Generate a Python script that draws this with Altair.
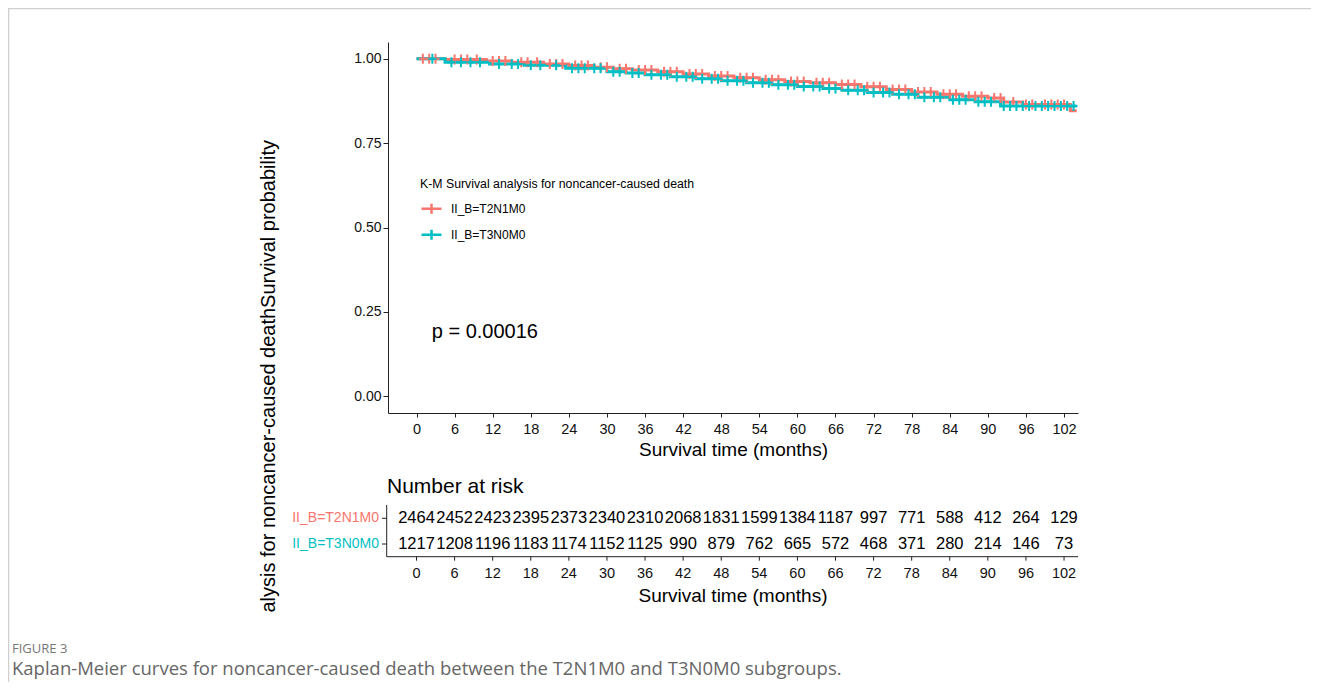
import altair as alt
import pandas as pd

# ---------------- data ----------------
groups = ["II_B=T2N1M0", "II_B=T3N0M0"]
colors = ["#F8766D", "#00BFC4"]

# Kaplan-Meier step curves (time in months, survival probability)
red_t = [0, 4.5, 11, 15, 20, 24, 28, 31, 34, 38, 42, 46, 50, 54, 58, 62, 66, 70,
         74, 78, 82, 86, 90, 92.5, 95.5, 103, 104]
red_s = [1.000, 0.998, 0.994, 0.990, 0.985, 0.980, 0.975, 0.971, 0.967, 0.962,
         0.955, 0.949, 0.944, 0.938, 0.933, 0.929, 0.924, 0.917, 0.909, 0.902,
         0.895, 0.889, 0.884, 0.872, 0.865, 0.846, 0.846]
cyan_t = [0, 4.5, 11.5, 17, 23.5, 30, 33, 36, 40, 44, 48, 52, 56, 60, 64, 67, 71,
          75, 79, 84, 88, 92, 104]
cyan_s = [1.000, 0.990, 0.985, 0.981, 0.972, 0.962, 0.958, 0.953, 0.947, 0.941,
          0.935, 0.929, 0.923, 0.918, 0.912, 0.907, 0.900, 0.895, 0.886, 0.879,
          0.873, 0.860, 0.860]

# censoring times ("+" marks)
red_c = [1, 2, 3, 6, 7, 8, 9.5, 12, 13, 14, 16.5, 17.5, 19, 21, 22, 23, 25, 26, 27,
         29, 30, 32, 33, 35, 36, 37, 39, 40, 41, 43, 44, 45, 47, 48, 49, 51, 52, 53,
         55, 56, 57, 59, 60, 61, 63, 64, 65, 67, 68, 69, 71, 72, 73, 75, 76, 77, 79,
         80, 81, 83, 84, 85, 87, 88, 89, 91, 92, 94, 96, 97, 99, 100, 101, 102]
cyan_c = [2.5, 5.5, 7, 8.5, 10, 13, 15, 16, 18, 19.5, 22, 24.5, 25.5, 26.5, 28, 29,
          31, 32, 34, 35, 37, 38.5, 39.5, 41, 42.5, 43.5, 45, 46.5, 47.5, 49, 50.5,
          51.5, 53, 54.5, 55.5, 57, 58.5, 59.5, 61, 62.5, 63.5, 65, 66, 68, 69.5,
          70.5, 72, 73.5, 74.5, 76, 77.5, 78.5, 80, 81.5, 82.5, 84.5, 85.5, 86.5,
          88.5, 89.5, 90.5, 92.5, 93.5, 94.5, 95.5, 96.5, 97.5, 98.5, 99.5, 100.5,
          101.5, 102.5, 103.5]

# number at risk table
months = [0, 6, 12, 18, 24, 30, 36, 42, 48, 54, 60, 66, 72, 78, 84, 90, 96, 102]
n_red = [2464, 2452, 2423, 2395, 2373, 2340, 2310, 2068, 1831, 1599, 1384, 1187,
         997, 771, 588, 412, 264, 129]
n_cyan = [1217, 1208, 1196, 1183, 1174, 1152, 1125, 990, 879, 762, 665, 572, 468,
          371, 280, 214, 146, 73]

p_text = "p = 0.00016"
p_pos = [2.4, 0.19]

# ---------------- tables ----------------
def step_value(ts, ss, t):
    v = ss[0]
    for ti, si in zip(ts, ss):
        if ti <= t:
            v = si
    return v

curve = pd.DataFrame(
    [{"t": t, "s": s, "group": groups[0]} for t, s in zip(red_t, red_s)]
    + [{"t": t, "s": s, "group": groups[1]} for t, s in zip(cyan_t, cyan_s)]
)
cens = pd.DataFrame(
    [{"t": t, "s": step_value(red_t, red_s, t), "group": groups[0]} for t in red_c]
    + [{"t": t, "s": step_value(cyan_t, cyan_s, t), "group": groups[1]} for t in cyan_c]
)
risk_red = pd.DataFrame({"t": months, "n": n_red})
risk_cyan = pd.DataFrame({"t": months, "n": n_cyan})
ticks = pd.DataFrame({"t": months, "lab": [str(m) for m in months]})
pdf = pd.DataFrame({"t": [p_pos[0]], "s": [p_pos[1]], "lab": [p_text]})

FONT = "Liberation Sans, Arial, sans-serif"
W, H = 690, 371

x_axis = alt.Axis(values=months, title="Survival time (months)", titleFontSize=19,
                  titleFontWeight="normal", titleColor="#000", titlePadding=5,
                  labelFontSize=14.5, labelColor="#111", labelPadding=5, tickSize=4,
                  tickColor="#222", domainColor="#222", labelFont=FONT, titleFont=FONT,
                  grid=False)
x_enc = alt.X("t:Q", scale=alt.Scale(domain=[-4.49, 104.2], nice=False, zero=False),
              axis=x_axis)
y_axis = alt.Axis(values=[0, 0.25, 0.5, 0.75, 1.0], format=".2f",
                  title="alysis for noncancer-caused deathSurvival probability",
                  titleAngle=270, titleX=-120, titleY=570, titleAlign="left",
                  titleBaseline="middle", titleFontSize=20, titleFontWeight="normal",
                  titleColor="#000", titleLimit=0, labelFontSize=14, labelColor="#111",
                  labelPadding=2, tickSize=5, tickColor="#222", domainColor="#222",
                  labelFont=FONT, titleFont=FONT, grid=False)
y_enc = alt.Y("s:Q", scale=alt.Scale(domain=[-0.05, 1.05], nice=False, zero=False),
              axis=y_axis)
legend = alt.Legend(orient="none", legendX=32, legendY=136,
                    title="K-M Survival analysis for noncancer-caused death",
                    titleFontSize=12.3, titleFontWeight="normal", titleColor="#000",
                    titleFont=FONT, labelFont=FONT, labelFontSize=12, labelColor="#000",
                    titleLimit=0, labelLimit=0,
                    symbolType="M-1,0H1M0,-0.5V0.5", symbolSize=400,
                    symbolStrokeWidth=2.5, rowPadding=4, titlePadding=7, labelOffset=8)
c_enc = alt.Color("group:N", scale=alt.Scale(domain=groups, range=colors), legend=legend)

lines = alt.Chart(curve).mark_line(interpolate="step-after", strokeWidth=3).encode(
    x=x_enc, y=y_enc, color=c_enc, order=alt.Order("t:Q"))
marks = alt.Chart(cens).mark_point(shape="M-0.8,0H0.8M0,-1V1", filled=False, size=100,
                                   strokeWidth=2, opacity=1).encode(
    x=x_enc, y=y_enc, color=c_enc)
ptext = alt.Chart(pdf).mark_text(align="left", baseline="middle", fontSize=20,
                                 font=FONT, color="#000").encode(
    x=x_enc, y=y_enc, text="lab:N")

# ---- number-at-risk table (shares the x scale) ----
ROW1, ROW2, TAX = 476.3, 502.0, 514.7
nar_title = alt.Chart(pdf).mark_text(align="left", baseline="middle", fontSize=21,
                                     font=FONT, color="#000").encode(
    x=alt.value(-1), y=alt.value(445), text=alt.value("Number at risk"))
row1 = alt.Chart(risk_red).mark_text(fontSize=16.5, font=FONT, color="#000",
                                     baseline="middle").encode(
    x=x_enc, y=alt.value(ROW1), text="n:N")
row2 = alt.Chart(risk_cyan).mark_text(fontSize=16.5, font=FONT, color="#000",
                                      baseline="middle").encode(
    x=x_enc, y=alt.value(ROW2), text="n:N")
tab_yaxis = alt.Chart(pdf).mark_rule(color="#222", strokeWidth=1).encode(
    x=alt.value(-1.3), y=alt.value(463), y2=alt.value(TAX))
tab_xaxis = alt.Chart(pdf).mark_rule(color="#222", strokeWidth=1).encode(
    x=alt.value(-1.3), x2=alt.value(W), y=alt.value(TAX))
tab_yticks1 = alt.Chart(pdf).mark_rule(color="#222").encode(
    x=alt.value(-6), x2=alt.value(-1.3), y=alt.value(ROW1))
tab_yticks2 = alt.Chart(pdf).mark_rule(color="#222").encode(
    x=alt.value(-6), x2=alt.value(-1.3), y=alt.value(ROW2))
lab1 = alt.Chart(pdf).mark_text(align="right", baseline="middle", fontSize=14,
                                font=FONT, color=colors[0]).encode(
    x=alt.value(-9), y=alt.value(ROW1), text=alt.value(groups[0]))
lab2 = alt.Chart(pdf).mark_text(align="right", baseline="middle", fontSize=14,
                                font=FONT, color=colors[1]).encode(
    x=alt.value(-9), y=alt.value(ROW2), text=alt.value(groups[1]))
tab_xticks = alt.Chart(ticks).mark_rule(color="#222").encode(
    x=x_enc, y=alt.value(TAX), y2=alt.value(TAX + 4))
tab_xlabels = alt.Chart(ticks).mark_text(fontSize=14.5, font=FONT, color="#111",
                                         baseline="middle").encode(
    x=x_enc, y=alt.value(532), text="lab:N")
tab_title = alt.Chart(pdf).mark_text(fontSize=19, font=FONT, color="#000",
                                     baseline="middle").encode(
    x=alt.value(345), y=alt.value(554), text=alt.value("Survival time (months)"))

# ---- page frame and caption ----
frame_top = alt.Chart(pdf).mark_rule(color="#cfcfcf", strokeWidth=1.5).encode(
    x=alt.value(-380), x2=alt.value(925), y=alt.value(-33.5))
frame_left = alt.Chart(pdf).mark_rule(color="#cfcfcf", strokeWidth=1.5).encode(
    x=alt.value(-379.5), y=alt.value(-33.5), y2=alt.value(640))
fig_lab = alt.Chart(pdf).mark_text(align="left", baseline="middle", fontSize=13,
                                   font="Open Sans", color="#777777").encode(
    x=alt.value(-376), y=alt.value(606.5), text=alt.value("FIGURE 3"))
caption = alt.Chart(pdf).mark_text(align="left", baseline="middle", fontSize=18.5,
                                   font="Open Sans", color="#666666").encode(
    x=alt.value(-376), y=alt.value(627),
    text=alt.value("Kaplan-Meier curves for noncancer-caused death between the "
                   "T2N1M0 and T3N0M0 subgroups."))

chart = alt.layer(
    lines, marks, ptext, nar_title, row1, row2, tab_yaxis, tab_xaxis, tab_yticks1,
    tab_yticks2, lab1, lab2, tab_xticks, tab_xlabels, tab_title,
    frame_top, frame_left, fig_lab, caption
).properties(
    width=W, height=H,
    autosize=alt.AutoSizeParams(type="none"),
    padding={"left": 380, "top": 34, "right": 233, "bottom": 270},
    background="white",
).configure_view(stroke=None).configure_axis(grid=False)

chart.save("out.html", embed_options={"renderer": "svg", "actions": False})
